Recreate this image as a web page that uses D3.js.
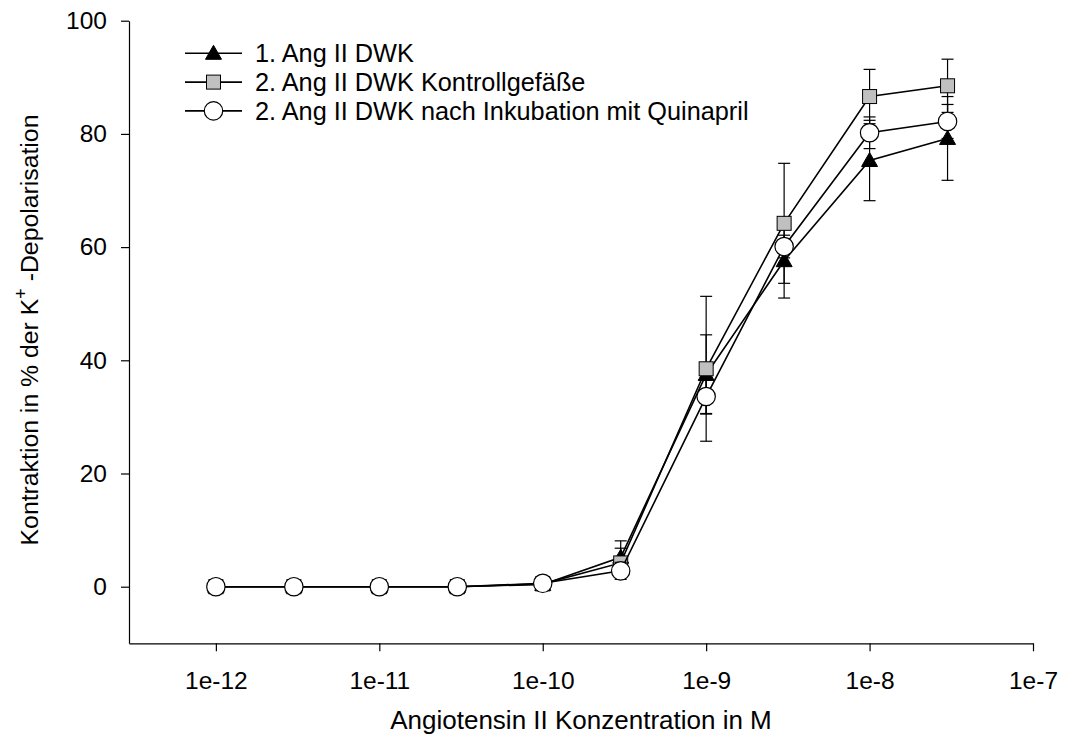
<!DOCTYPE html>
<html>
<head>
<meta charset="utf-8">
<script src="https://cdn.jsdelivr.net/npm/d3@7"></script>
<style>
  body { margin: 0; background: #fff; }
  svg text { font-family: Arial, "Liberation Sans", sans-serif; fill: #000; }
</style>
</head>
<body>
<svg id="chart" width="1066" height="742"></svg>
<script>
// concentrations (M)
var conc = [1e-12, 3e-12, 1e-11, 3e-11, 1e-10, 3e-10, 1e-9, 3e-9, 1e-8, 3e-8];

// 1. Ang II DWK
var dwk1 = [0, 0, 0, 0, 0.4, 5.2, 37.5, 57.6, 75.3, 79.2];
var dwk1Err = [0, 0, 0, 0, 0.3, 2.9, 7.0, 6.6, 7.1, 7.4];
// 2. Ang II DWK Kontrollgefäße
var kontrolle = [0, 0, 0, 0, 0.5, 4.2, 38.5, 64.2, 86.6, 88.5];
var kontrolleErr = [0, 0, 0, 0, 0.3, 2.6, 12.8, 10.6, 4.8, 4.7];
// 2. Ang II DWK nach Inkubation mit Quinapril
var quinapril = [0, 0, 0, 0, 0.6, 2.8, 33.6, 60.1, 80.2, 82.2];
var quinaprilErr = [0, 0, 0, 0, 0.3, 1.5, 3.0, 2.0, 2.8, 3.0];

var xTicks = [1e-12, 1e-11, 1e-10, 1e-9, 1e-8, 1e-7];
var xTickLabels = ['1e-12', '1e-11', '1e-10', '1e-9', '1e-8', '1e-7'];
var yTicks = [0, 20, 40, 60, 80, 100];

var series = [
  { name: '1. Ang II DWK', values: dwk1, err: dwk1Err, symbol: 'triangle' },
  { name: '2. Ang II DWK Kontrollgefäße', values: kontrolle, err: kontrolleErr, symbol: 'square' },
  { name: '2. Ang II DWK nach Inkubation mit Quinapril', values: quinapril, err: quinaprilErr, symbol: 'circle' }
];

var svg = d3.select('#chart');

var x = d3.scaleLog().domain([2.94e-13, 1e-7]).range([129, 1033]);
var y = d3.scaleLinear().domain([-10, 100]).range([643.3, 20.7]);

// axes
var yAxis = d3.axisLeft(y).tickValues(yTicks).tickSize(8).tickSizeOuter(0).tickPadding(14);
var xAxis = d3.axisBottom(x).tickValues(xTicks).tickSize(8).tickSizeOuter(0).tickPadding(20)
  .tickFormat(function (d, i) { return xTickLabels[i]; });

var gy = svg.append('g').attr('transform', 'translate(129,0)').call(yAxis);
var gx = svg.append('g').attr('transform', 'translate(0,643.3)').call(xAxis);
[gx, gy].forEach(function (g) {
  g.selectAll('path, line').attr('stroke', '#000').attr('stroke-width', 1.2);
  g.selectAll('text').style('font-size', '24.5px').attr('fill', '#000');
});

// axis titles
svg.append('text')
  .attr('x', 581).attr('y', 729)
  .attr('text-anchor', 'middle')
  .style('font-size', '26px')
  .text('Angiotensin II Konzentration in M');

var yTitle = svg.append('text')
  .attr('transform', 'translate(38,330) rotate(-90)')
  .attr('text-anchor', 'middle')
  .style('font-size', '24.8px');
yTitle.append('tspan').text('Kontraktion in % der K');
yTitle.append('tspan').attr('dy', -11).style('font-size', '18px').text('+');
yTitle.append('tspan').attr('dy', 11).text(' -Depolarisation');

// symbols
var drawSymbol = function (g, type, cx, cy) {
  if (type === 'triangle') {
    g.append('path')
      .attr('d', 'M0,-8L8,6L-8,6Z')
      .attr('transform', 'translate(' + cx + ',' + cy + ')')
      .attr('fill', '#000').attr('stroke', '#000').attr('stroke-width', 1);
  } else if (type === 'square') {
    g.append('rect')
      .attr('x', cx - 7).attr('y', cy - 7).attr('width', 14).attr('height', 14)
      .attr('fill', '#c0c0c0').attr('stroke', '#000').attr('stroke-width', 1);
  } else {
    g.append('circle')
      .attr('cx', cx).attr('cy', cy).attr('r', 9.2)
      .attr('fill', '#fff').attr('stroke', '#000').attr('stroke-width', 1.2);
  }
};

var line = d3.line()
  .x(function (d) { return x(d[0]); })
  .y(function (d) { return y(d[1]); });

series.forEach(function (s) {
  var g = svg.append('g');
  var pts = conc.map(function (c, i) { return [c, s.values[i], s.err[i]]; });

  // error bars
  pts.forEach(function (p) {
    if (p[2] <= 0) return;
    var cx = x(p[0]);
    var top = y(p[1] + p[2]), bot = y(p[1] - p[2]);
    g.append('line').attr('x1', cx).attr('x2', cx).attr('y1', top).attr('y2', bot)
      .attr('stroke', '#000').attr('stroke-width', 1.2);
    [top, bot].forEach(function (yy) {
      g.append('line').attr('x1', cx - 6).attr('x2', cx + 6).attr('y1', yy).attr('y2', yy)
        .attr('stroke', '#000').attr('stroke-width', 1.2);
    });
  });

  g.append('path').datum(pts)
    .attr('d', line)
    .attr('fill', 'none').attr('stroke', '#000').attr('stroke-width', 1.6);

  pts.forEach(function (p) { drawSymbol(g, s.symbol, x(p[0]), y(p[1])); });
});

// legend
var legend = svg.append('g');
series.forEach(function (s, i) {
  var ly = 53.3 + i * 28.8;
  legend.append('line').attr('x1', 185).attr('x2', 242).attr('y1', ly).attr('y2', ly)
    .attr('stroke', '#000').attr('stroke-width', 1.6);
  drawSymbol(legend, s.symbol, 213.5, ly);
  legend.append('text')
    .attr('x', 255).attr('y', ly + 8.8)
    .style('font-size', '25.3px')
    .text(s.name);
});
</script>
</body>
</html>
